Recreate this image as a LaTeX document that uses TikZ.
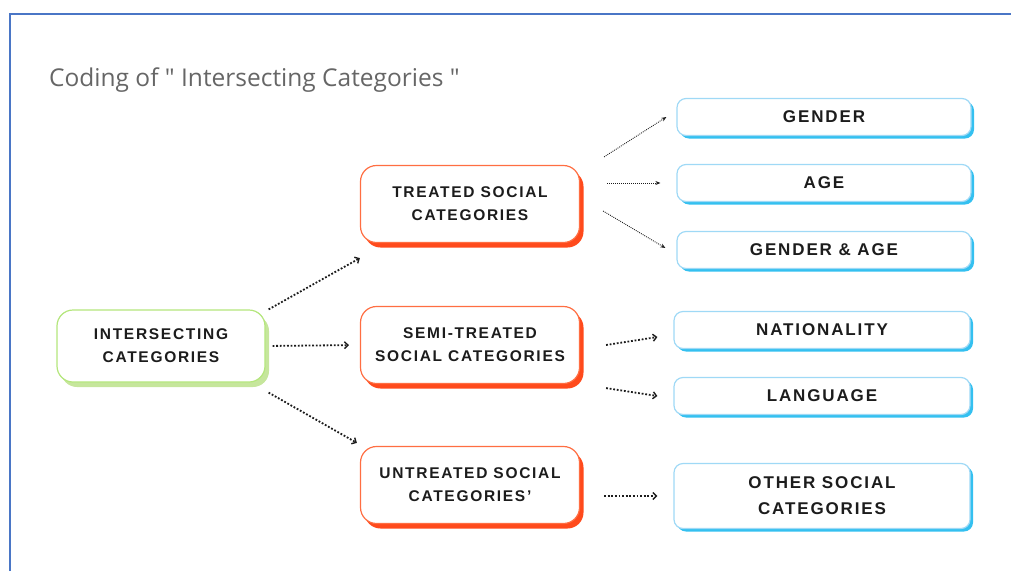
\documentclass[tikz,border=0pt]{standalone}
\usepackage{fontspec}
\setmainfont{Open Sans}
\newfontfamily\boxfont[LetterSpace=11]{Liberation Sans}
\usetikzlibrary{shadows,arrows.meta}

\definecolor{framecol}{HTML}{4A76C6}
\definecolor{titlecol}{HTML}{666666}
\definecolor{textcol}{HTML}{1C1C1C}
\definecolor{greenline}{HTML}{B4E67C}
\definecolor{greenshade}{HTML}{C6E69C}
\definecolor{orangeline}{HTML}{FF6E42}
\definecolor{orangeshade}{HTML}{FF4A1C}
\definecolor{blueline}{HTML}{9FD9F6}
\definecolor{blueshade}{HTML}{34C0F0}

\tikzset{
  box/.style={draw, line width=1.2pt, fill=white, align=center, text=textcol,
    inner sep=0pt, font=\boxfont\bfseries\fontsize{15.5}{23}\selectfont},
  greenbox/.style={box, rounded corners=16pt, draw=greenline,
    minimum width=208pt, minimum height=72pt,
    drop shadow={shadow xshift=4pt, shadow yshift=-5pt, fill=greenshade, opacity=1}},
  orangebox/.style={box, rounded corners=16pt, draw=orangeline,
    minimum width=219pt, minimum height=77pt,
    drop shadow={shadow xshift=4pt, shadow yshift=-5pt, fill=orangeshade, opacity=1}},
  bluebox/.style={box, rounded corners=9pt, draw=blueline,
    minimum width=294pt, minimum height=37pt,
    font=\boxfont\bfseries\fontsize{17}{26}\selectfont,
    drop shadow={shadow xshift=3pt, shadow yshift=-3pt, fill=blueshade, opacity=1}},
  link/.style={line width=1.8pt, dash pattern=on 1.8pt off 1.8pt, textcol,
    -{Straight Barb[length=3.5pt,width=7pt,line width=1.4pt]}},
  thinlink/.style={line width=0.9pt, dash pattern=on 0.9pt off 1.1pt, textcol,
    -{Stealth[length=5pt,width=4pt]}}
}

\begin{document}
\begin{tikzpicture}[x=1pt,y=-1pt]
    \useasboundingbox (0,0) rectangle (1011,571);
    % frame
    \draw[framecol, line width=1.6pt] (10,571) -- (10,14) -- (1011,14);
    \node[anchor=base west, inner sep=0pt, text=titlecol, font=\fontsize{24.5}{28}\selectfont] (title) at (49,86)
        {Coding of \textquotedbl{} Intersecting Categories \textquotedbl};

    % boxes
    \node[greenbox] (inter) at (161,346) {INTERSECTING\\CATEGORIES};
    \node[orangebox] (treated) at (470,204) {TREATED SOCIAL\\CATEGORIES};
    \node[orangebox] (semi) at (470,345) {SEMI-TREATED\\SOCIAL CATEGORIES};
    \node[orangebox] (untreated) at (470,485) {UNTREATED SOCIAL\\CATEGORIES’};

    \node[bluebox] (gender) at (824,117) {GENDER};
    \node[bluebox] (age) at (824,183) {AGE};
    \node[bluebox] (genderage) at (824,250) {GENDER \& AGE};
    \node[bluebox, minimum width=296pt] (nationality) at (822,330) {NATIONALITY};
    \node[bluebox, minimum width=296pt] (language) at (822,396) {LANGUAGE};
    \node[bluebox, minimum width=296pt, minimum height=65pt] (others) at (822,496) {OTHER SOCIAL\\CATEGORIES};

    % connectors
    \draw[link] ([xshift=3pt]inter.north east) -- ([yshift=-15pt]treated.south west);
    \draw[link, shorten <=7pt, shorten >=11pt] (inter.east) -- (semi.west);
    \draw[link] ([xshift=3pt,yshift=-10pt]inter.south east) -- ([xshift=-3pt,yshift=3pt]untreated.north west);

    \draw[thinlink] ([xshift=24pt,yshift=8pt]treated.north east) -- ([xshift=-10pt]gender.west);
    \draw[thinlink, shorten <=27pt, shorten >=16pt] (treated.east |- age.west) -- (age.west);
    \draw[thinlink] ([xshift=23pt,yshift=-7pt]treated.east) -- ([xshift=-11pt,yshift=2pt]genderage.west);

    \draw[link] ([xshift=26pt]semi.east) -- ([xshift=-16pt,yshift=-7pt]nationality.west);
    \draw[link] ([xshift=26pt,yshift=-4pt]semi.south east) -- ([xshift=-16pt]language.west);
    \draw[link, shorten <=24pt, shorten >=16pt] (untreated.east |- others.west) -- (others.west);
\end{tikzpicture}
\end{document}
